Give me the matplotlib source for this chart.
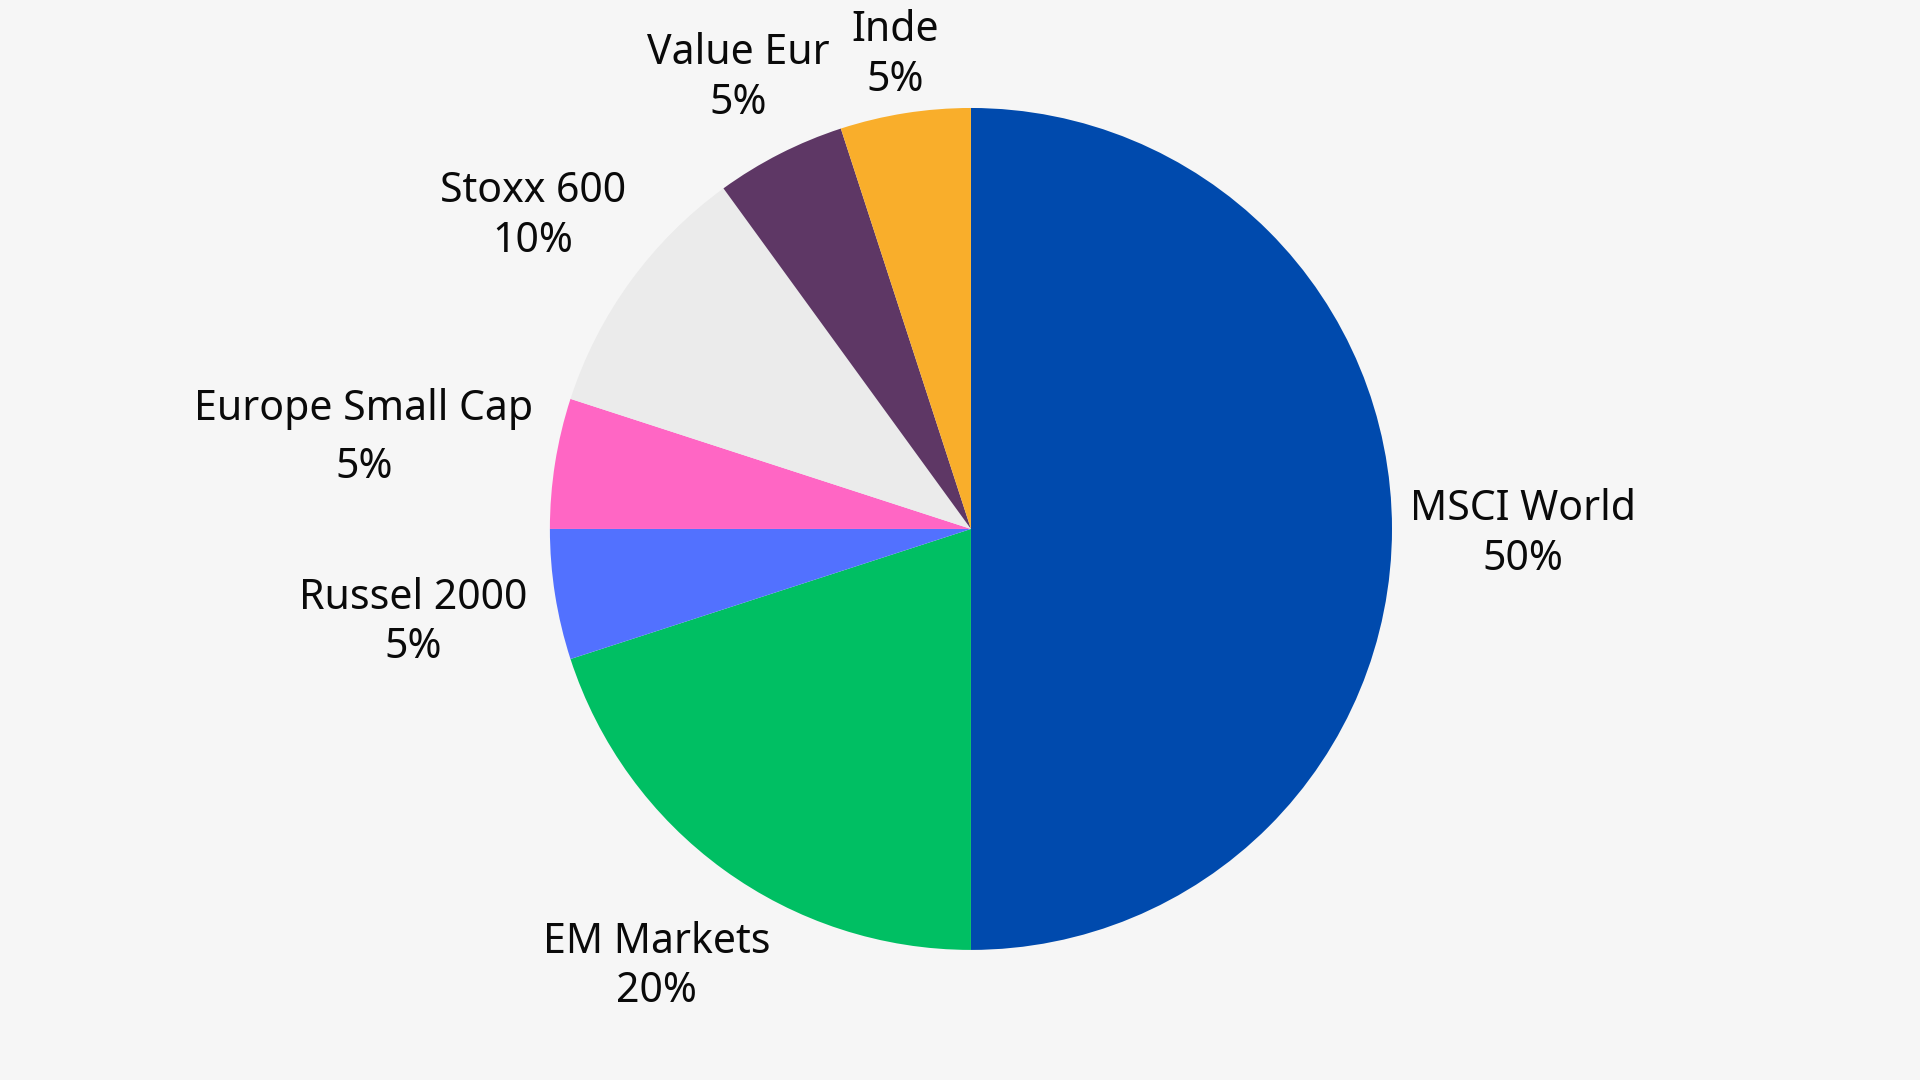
import numpy as np
import matplotlib
matplotlib.use("Agg")
import matplotlib.pyplot as plt

# portfolio split, clockwise from 12 o'clock
names = ["MSCI World", "EM Markets", "Russel 2000", "Europe Small Cap",
         "Stoxx 600", "Value Eur", "Inde"]
shares = [50, 20, 5, 5, 10, 5, 5]
colors = ["#004AAD", "#00BF63", "#5271FF", "#FF66C4",
          "#EBEBEB", "#5E3765", "#F9AE2B"]

# how far each label sits from the centre (pie radius = 1)
label_dist = [1.31, 1.27, 1.34, 1.46, 1.285, 1.216, 1.152]
label_spacing = [1.23, 1.23, 1.23, 1.5, 1.23, 1.23, 1.23]

plt.rcParams["font.family"] = ["Noto Sans", "DejaVu Sans"]

bg = "#F6F6F6"
fig = plt.figure(figsize=(19.2, 10.8), dpi=100, facecolor=bg)
ax = fig.add_axes([0, 0, 1, 1])
ax.set_facecolor(bg)

wedges, _ = ax.pie(shares, colors=colors, startangle=90, counterclock=False,
                   radius=1.0, center=(0, 0),
                   wedgeprops={"linewidth": 0})

for w, name, val, d, ls in zip(wedges, names, shares, label_dist, label_spacing):
    mid = np.deg2rad((w.theta1 + w.theta2) / 2)
    ax.text(d * np.cos(mid), d * np.sin(mid) - 0.012, f"{name}\n{val}%",
            ha="center", va="center", fontsize=29.5, color="#0A0A0A",
            linespacing=ls)

ax.set_xlim(-2.306, 2.254)
ax.set_ylim(-1.309, 1.2565)
ax.set_aspect("auto")
ax.axis("off")

fig.savefig("out.png", dpi=100, facecolor=bg)
